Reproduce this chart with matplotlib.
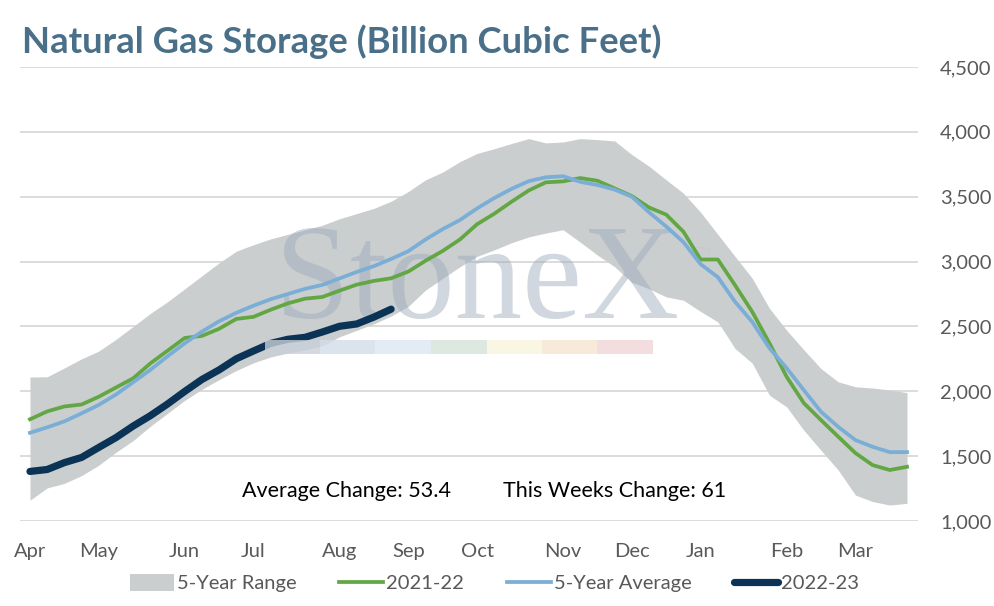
import matplotlib
matplotlib.use("Agg")
import matplotlib.pyplot as plt
from matplotlib.patches import Patch, Rectangle
from matplotlib.lines import Line2D

# ---------------- data ----------------
weeks = list(range(52))
month_labels = ["Apr", "May", "Jun", "Jul", "Aug", "Sep", "Oct", "Nov", "Dec", "Jan", "Feb", "Mar"]
month_weeks = [0, 4, 9, 13, 18, 22, 26, 31, 35, 39, 44, 48]

range_upper = [2110, 2112, 2180, 2250, 2310, 2400, 2500, 2600, 2690, 2790,
               2890, 2990, 3080, 3130, 3175, 3210, 3245, 3280, 3330, 3370,
               3410, 3465, 3540, 3630, 3690, 3770, 3834, 3870, 3910, 3948,
               3915, 3922, 3948, 3940, 3930, 3825, 3735, 3630, 3527, 3380,
               3210, 3040, 2872, 2640, 2471, 2320, 2175, 2073, 2035, 2025,
               2010, 1990]
range_lower = [1160, 1255, 1290, 1350, 1430, 1530, 1620, 1730, 1830, 1930,
               2015, 2090, 2160, 2220, 2265, 2295, 2320, 2350, 2420, 2470,
               2520, 2580, 2655, 2780, 2870, 2960, 3040, 3090, 3145, 3190,
               3220, 3245, 3150, 3050, 2960, 2840, 2790, 2728, 2702, 2615,
               2535, 2330, 2217, 1970, 1880, 1700, 1545, 1393, 1200, 1150,
               1123, 1136]
s2021_22 = [1784, 1845, 1883, 1898, 1958, 2029, 2100, 2215, 2313, 2411,
            2427, 2482, 2558, 2574, 2629, 2678, 2714, 2727, 2776, 2822,
            2851, 2871, 2923, 3006, 3082, 3170, 3288, 3369, 3461, 3548,
            3611, 3618, 3644, 3623, 3564, 3505, 3417, 3362, 3230, 3016,
            3016, 2818, 2613, 2371, 2112, 1909, 1778, 1650, 1524, 1431,
            1393, 1418]
avg5 = [1680, 1722, 1768, 1830, 1895, 1975, 2070, 2165, 2270, 2370,
        2460, 2540, 2605, 2660, 2710, 2750, 2790, 2820, 2870, 2920,
        2965, 3020, 3080, 3170, 3250, 3320, 3410, 3490, 3560, 3620,
        3650, 3658, 3615, 3590, 3555, 3500, 3380, 3270, 3150, 2980,
        2880, 2690, 2535, 2333, 2179, 2009, 1842, 1726, 1624, 1572,
        1531, 1531]
s2022_23 = [1382, 1397, 1450, 1490, 1567, 1643, 1732, 1812, 1902, 1999,
            2091, 2165, 2251, 2311, 2369, 2401, 2416, 2457, 2501, 2519,
            2572, 2633]
y_ticks = [1000, 1500, 2000, 2500, 3000, 3500, 4000, 4500]

title = "Natural Gas Storage (Billion Cubic Feet)"
avg_change_text = "Average Change: 53.4"
week_change_text = "This Weeks Change: 61"

# ---------------- style ----------------
W, H = 995, 606
c_band = "#cbcecf"
c_green = "#62a744"
c_blue = "#7aaed6"
c_dark = "#0b3356"
c_text = "#595959"
c_grid = "#d9d9d9"

plt.rcParams["font.family"] = ["Lato", "DejaVu Sans"]

fig = plt.figure(figsize=(W / 100, H / 100), dpi=100)
ax = fig.add_axes([20 / W, (H - 521) / H, (918 - 20) / W, (521 - 67) / H])

ax.fill_between(weeks, range_lower, range_upper, color=c_band, lw=0, zorder=1)

# watermark
ax.text((477 - 20) / 898, (521 - 318) / (521 - 67), "StoneX", transform=ax.transAxes,
        ha="center", va="baseline", fontsize=97, family="Liberation Serif",
        color="#9aa8ba", alpha=0.45, zorder=2)
ax.text((697 - 20) / 898, (521 - 252) / (521 - 67), "TM", transform=ax.transAxes,
        ha="left", va="center", fontsize=7, color="#c8c8c8", zorder=2)
bar_edges = [265, 320, 375, 431, 487, 542, 597, 653]
bar_colors = ["#c9d0d8", "#d3dce8", "#dde8f3", "#d5e3da", "#f8f4dc", "#f7e5d0", "#f2d5d6"]
for i, col in enumerate(bar_colors):
    x0 = bar_edges[i]
    x1 = bar_edges[i + 1]
    fig.patches.append(Rectangle((x0 / W, (H - 354) / H), (x1 - x0) / W, 14 / H,
                                 transform=fig.transFigure, color=col, alpha=0.8,
                                 zorder=2, lw=0))

ax.plot(weeks, s2021_22, color=c_green, lw=2.7, zorder=3)
ax.plot(weeks, avg5, color=c_blue, lw=2.7, zorder=4)
ax.plot(weeks[:len(s2022_23)], s2022_23, color=c_dark, lw=5.2, zorder=5,
        solid_capstyle="round")

ax.set_xlim(-0.58, 51.64)
ax.set_ylim(1000, 4500)
ax.set_yticks(y_ticks)
ax.set_yticklabels([f"{v:,}" for v in y_ticks])
ax.yaxis.tick_right()
ax.set_xticks(month_weeks)
ax.set_xticklabels(month_labels)
ax.tick_params(axis="both", length=0, colors=c_text, labelsize=14.5)
ax.tick_params(axis="y", pad=16)
ax.tick_params(axis="x", pad=16)
ax.grid(axis="y", color=c_grid, lw=1.3, zorder=0)
ax.set_axisbelow(True)
for s in ax.spines.values():
    s.set_visible(False)

fig.text(22 / W, 1 - 42 / H, title, ha="left", va="center", fontsize=26.3,
         fontweight="bold", color="#4a7089")

fig.text(347 / W, 1 - 491 / H, avg_change_text, ha="center", va="center",
         fontsize=15.5, color="black")
fig.text(615 / W, 1 - 491 / H, week_change_text, ha="center", va="center",
         fontsize=15.5, color="black")

handles = [Patch(color=c_band, lw=0),
           Line2D([], [], color=c_green, lw=2.7),
           Line2D([], [], color=c_blue, lw=2.7),
           Line2D([], [], color=c_dark, lw=5.2, solid_capstyle="round")]
labels = ["5-Year Range", "2021-22", "5-Year Average", "2022-23"]
fig.legend(handles, labels, loc="center", bbox_to_anchor=(0.497, 1 - 583 / H),
           ncol=4, frameon=False, fontsize=14.5, handlelength=2.2,
           handletextpad=0.15, columnspacing=2.1, labelcolor=c_text,
           handleheight=0.9)

fig.savefig("out.png", dpi=100)
